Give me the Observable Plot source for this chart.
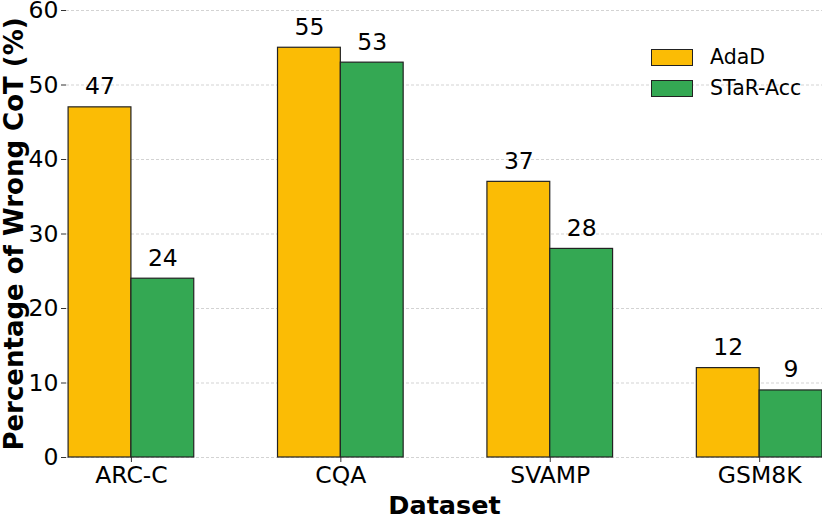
<!DOCTYPE html>
<html><head><meta charset="utf-8">
<script src="https://cdn.jsdelivr.net/npm/d3@7"></script>
<script src="https://cdn.jsdelivr.net/npm/@observablehq/plot@0.6"></script>
<style>
body{margin:0;background:#fff;font-family:"DejaVu Sans",sans-serif;}
#wrap{position:relative;width:822px;height:518px;}
.leg{position:absolute;left:651px;font-size:20.5px;color:#000;display:flex;align-items:center;}
.sw{width:40px;height:15px;border:1px solid #222;margin-right:17px;}
</style></head><body>
<div id="wrap"></div>
<script>
const categories = ["ARC-C", "CQA", "SVAMP", "GSM8K"];
const series = ["AdaD", "STaR-Acc"];
const adad = [47, 55, 37, 12];
const starAcc = [24, 53, 28, 9];
const colors = ["#FBBC05", "#34A853"];
const yTicks = [0, 10, 20, 30, 40, 50, 60];

const barW = 0.3;
const rows = [];
categories.forEach((c, i) => {
  rows.push({cat: c, s: series[0], v: adad[i], x1: i - barW, x2: i});
  rows.push({cat: c, s: series[1], v: starAcc[i], x1: i, x2: i + barW});
});

const chart = Plot.plot({
  width: 822, height: 518,
  marginLeft: 66, marginRight: 0, marginTop: 10, marginBottom: 61,
  style: {fontFamily: "DejaVu Sans, sans-serif", fontSize: "21px", color: "#000", background: "#fff", overflow: "visible"},
  x: {domain: [-0.31, 3.3], axis: null},
  y: {domain: [0, 60], axis: null},
  color: {domain: series, range: colors},
  marks: [
    Plot.gridY(yTicks, {stroke: "#b0b0b0", strokeOpacity: 0.7, strokeDasharray: "3,2", strokeWidth: 0.8}),
    Plot.rectY(rows, {x1: "x1", x2: "x2", y1: 0, y2: "v", fill: "s", stroke: "#222", strokeWidth: 1.2}),
    Plot.text(rows, {x: d => (d.x1 + d.x2) / 2, y: "v", text: d => String(d.v), lineAnchor: "bottom", dy: -13, fontSize: 23.5, fill: "#000"}),
    Plot.axisY(yTicks, {tickSize: 5, tickPadding: 3, fontSize: 23.5, stroke: "#333", label: null}),
    Plot.axisX(categories.map((c, i) => i), {tickFormat: i => categories[i], tickSize: 5, tickPadding: 4, fontSize: 23.5, stroke: "#333", label: null}),
    Plot.text(["Dataset"], {frameAnchor: "bottom", dy: 60 - 4, text: d => d, fontWeight: "bold", fontSize: 25.5, lineAnchor: "bottom"}),
    Plot.text(["Percentage of Wrong CoT (%)"], {frameAnchor: "left", textAnchor: "middle", dx: -52, rotate: -90, text: d => d, fontWeight: "bold", fontSize: 26})
  ]
});
const wrap = document.getElementById("wrap");
wrap.appendChild(chart);
series.forEach((s, i) => {
  const el = document.createElement("div");
  el.className = "leg";
  el.style.top = (45 + i * 31) + "px";
  el.innerHTML = `<div class="sw" style="background:${colors[i]}"></div><span>${s}</span>`;
  wrap.appendChild(el);
});
</script>
</body></html>
